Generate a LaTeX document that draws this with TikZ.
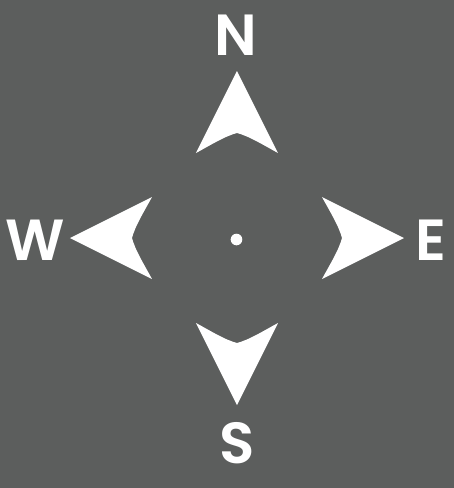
\documentclass[tikz,border=0pt]{standalone}
\usepackage{fontspec}
\setmainfont{Poppins}[BoldFont={Poppins SemiBold}]
\usepackage{tikz}

\definecolor{bgGray}{RGB}{92,94,93}

\tikzset{
  pointer/.pic={
    \fill[white] (0,167) -- (41,85)
      .. controls (28,92) and (12,102) .. (0,105)
      .. controls (-12,102) and (-28,92) .. (-41,85) -- cycle;
  }
}

\begin{document}
\begin{tikzpicture}[x=1pt, y=1pt,
    dirlbl/.style={text=white, font=\fontsize{58}{58}\selectfont\bfseries,
                   inner sep=0pt, anchor=center}
  ]
  % background
  \fill[bgGray] (-237,-250) rectangle (217,238);
  \useasboundingbox (-237,-250) rectangle (217,238);

  % the four pointers
  \pic at (0,0) {pointer};
  \pic[rotate=-90] at (0,0) {pointer};
  \pic[rotate=180] at (0,0) {pointer};
  \pic[rotate=90] at (0,0) {pointer};

  % centre dot
  \fill[white] (-0.5,-1.5) circle (5.8);

  % labels
  \node[dirlbl] (north) at (-1,203)  {N};
  \node[dirlbl] (east)  at (194,-2)  {E};
  \node[dirlbl] (south) at (0,-205)  {S};
  \node[dirlbl] (west)  at (-202,-2) {W};
\end{tikzpicture}
\end{document}
